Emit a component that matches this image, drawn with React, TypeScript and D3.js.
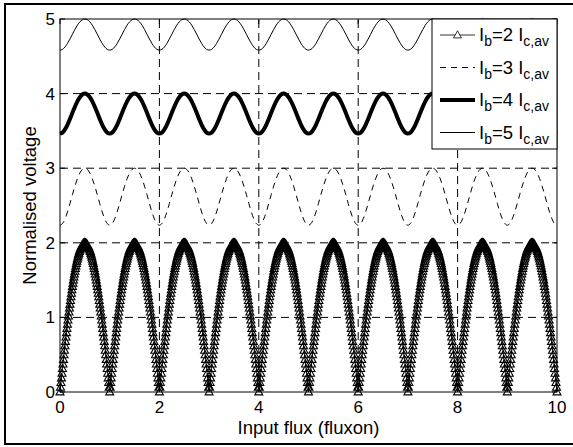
import React from "react";
import * as d3 from "d3";

// ---- data ----
const fluxTicks = [0, 2, 4, 6, 8, 10];
const voltTicks = [0, 1, 2, 3, 4, 5];
const periodCount = 10;

// Ib = 2 Ic,av : half a period (flux 0 .. 0.5) sampled every 0.01 fluxon
const ib2Step = 0.01;
const ib2HalfPeriod = [
  0, 0.063, 0.126, 0.188, 0.251, 0.313, 0.375, 0.436, 0.497, 0.558, 0.618,
  0.677, 0.736, 0.794, 0.852, 0.908, 0.964, 1.018, 1.072, 1.124, 1.176,
  1.226, 1.275, 1.323, 1.369, 1.414, 1.458, 1.5, 1.541, 1.58, 1.618, 1.654,
  1.689, 1.722, 1.753, 1.782, 1.81, 1.836, 1.86, 1.882, 1.902, 1.921, 1.937,
  1.952, 1.965, 1.975, 1.984, 1.991, 1.996, 1.999, 2.0,
];

// Ib = 3,4,5 Ic,av : half a period sampled every 0.05 fluxon
const curveStep = 0.05;
const ib3HalfPeriod = [2.236, 2.258, 2.32, 2.413, 2.526, 2.646, 2.76, 2.859, 2.936, 2.984, 3.0];
const ib4HalfPeriod = [3.464, 3.478, 3.519, 3.581, 3.658, 3.742, 3.823, 3.896, 3.952, 3.988, 4.0];
const ib5HalfPeriod = [4.583, 4.593, 4.624, 4.672, 4.731, 4.796, 4.86, 4.917, 4.962, 4.99, 5.0];

const legendBias = ["2", "3", "4", "5"];
const xLabel = "Input flux (fluxon)";
const yLabel = "Normalised voltage";

type Pt = [number, number];

function tileSeries(half: number[], step: number): Pt[] {
  const period = half.concat(half.slice(1, -1).reverse());
  const pts: Pt[] = [];
  let g = 0;
  for (let k = 0; k < periodCount; k++) {
    for (let i = 0; i < period.length; i++) {
      pts.push([g * step, period[i]]);
      g++;
    }
  }
  pts.push([g * step, half[0]]);
  return pts;
}

const W = 573;
const H = 447;
const FONT = "'Liberation Sans', Arial, sans-serif";

export default function App() {
  const x = d3.scaleLinear().domain([0, 10]).range([60, 557]);
  const y = d3.scaleLinear().domain([0, 5]).range([392, 19]);

  const s2 = tileSeries(ib2HalfPeriod, ib2Step);
  const s3 = tileSeries(ib3HalfPeriod, curveStep);
  const s4 = tileSeries(ib4HalfPeriod, curveStep);
  const s5 = tileSeries(ib5HalfPeriod, curveStep);

  const line = d3
    .line<Pt>()
    .x((d) => x(d[0]))
    .y((d) => y(d[1]));
  const smooth = d3
    .line<Pt>()
    .x((d) => x(d[0]))
    .y((d) => y(d[1]))
    .curve(d3.curveCatmullRom);

  const tri = (cx: number, cy: number) =>
    `M${cx},${cy - 4.2}L${cx + 4},${cy + 2.9}L${cx - 4},${cy + 2.9}Z`;
  const markers = s2.map((d) => tri(x(d[0]), y(d[1]))).join("");

  const [x0, x1] = x.range();
  const [y0, y1] = y.range();

  const legX = 432;
  const legY = 19;
  const legW = 557 - 432;
  const legRows = [35, 67.5, 100, 132.5];
  const legH = 130;

  return (
    <svg
      width={W}
      height={H}
      style={{ position: "absolute", left: 0, top: 0, background: "#fff" }}
      fontFamily={FONT}
    >
      <rect x={0} y={0} width={W} height={H} fill="#fff" />
      {/* outer frame */}
      <rect x={5} y={4} width={600} height={440} fill="none" stroke="#000" strokeWidth={2} />

      {/* grid */}
      {voltTicks
        .filter((v) => v > 0 && v < 5)
        .map((v) => (
          <line key={"hg" + v} x1={x0} x2={x1} y1={y(v)} y2={y(v)} stroke="#000" strokeWidth={1} strokeDasharray="8,5" />
        ))}
      {fluxTicks
        .filter((v) => v > 0 && v < 10)
        .map((v) => (
          <line key={"vg" + v} x1={x(v)} x2={x(v)} y1={y0} y2={y1} stroke="#000" strokeWidth={1} strokeDasharray="8,5" />
        ))}

      {/* curves */}
      <path d={smooth(s5) || ""} fill="none" stroke="#000" strokeWidth={1} />
      <path d={smooth(s4) || ""} fill="none" stroke="#000" strokeWidth={4} />
      <path d={smooth(s3) || ""} fill="none" stroke="#000" strokeWidth={1} strokeDasharray="6,5" />
      <path d={line(s2) || ""} fill="none" stroke="#000" strokeWidth={1} />
      <path d={markers} fill="none" stroke="#000" strokeWidth={1.1} />

      {/* axes box */}
      <rect x={x0} y={y1} width={x1 - x0} height={y0 - y1} fill="none" stroke="#000" strokeWidth={1} />
      {fluxTicks.map((v) => (
        <g key={"xt" + v}>
          <line x1={x(v)} x2={x(v)} y1={y0} y2={y0 - 5} stroke="#000" />
          <line x1={x(v)} x2={x(v)} y1={y1} y2={y1 + 5} stroke="#000" />
          <text x={x(v)} y={413} fontSize={17} textAnchor="middle">
            {v}
          </text>
        </g>
      ))}
      {voltTicks.map((v) => (
        <g key={"yt" + v}>
          <line x1={x0} x2={x0 + 5} y1={y(v)} y2={y(v)} stroke="#000" />
          <line x1={x1} x2={x1 - 5} y1={y(v)} y2={y(v)} stroke="#000" />
          <text x={55} y={y(v) + 6} fontSize={17} textAnchor="end">
            {v}
          </text>
        </g>
      ))}
      <text x={(x0 + x1) / 2} y={434} fontSize={18.5} textAnchor="middle">
        {xLabel}
      </text>
      <text
        transform={`translate(36,${(y0 + y1) / 2}) rotate(-90)`}
        fontSize={18.5}
        textAnchor="middle"
      >
        {yLabel}
      </text>

      {/* legend */}
      <rect x={legX} y={legY} width={legW} height={legH} fill="#fff" stroke="#000" strokeWidth={1} />
      {legendBias.map((b, i) => {
        const ry = legRows[i];
        const lx1 = 440;
        const lx2 = 475;
        let sample;
        if (i === 0)
          sample = (
            <g>
              <line x1={lx1} x2={lx2} y1={ry} y2={ry} stroke="#000" strokeWidth={0.8} />
              <path d={tri((lx1 + lx2) / 2, ry)} fill="#fff" stroke="#000" strokeWidth={0.8} />
            </g>
          );
        else if (i === 1)
          sample = <line x1={lx1} x2={lx2} y1={ry} y2={ry} stroke="#000" strokeWidth={1} strokeDasharray="6,5" />;
        else if (i === 2)
          sample = <line x1={lx1} x2={lx2} y1={ry} y2={ry} stroke="#000" strokeWidth={4} />;
        else sample = <line x1={lx1} x2={lx2} y1={ry} y2={ry} stroke="#000" strokeWidth={1} />;
        return (
          <g key={"lg" + b}>
            {sample}
            <text x={479} y={ry + 6} fontSize={18.5}>
              I
              <tspan dy={5} fontSize={14}>b</tspan>
              <tspan dy={-5} fontSize={18.5}>{"=" + b + " I"}</tspan>
              <tspan dy={5} fontSize={14}>c,av</tspan>
            </text>
          </g>
        );
      })}
    </svg>
  );
}
